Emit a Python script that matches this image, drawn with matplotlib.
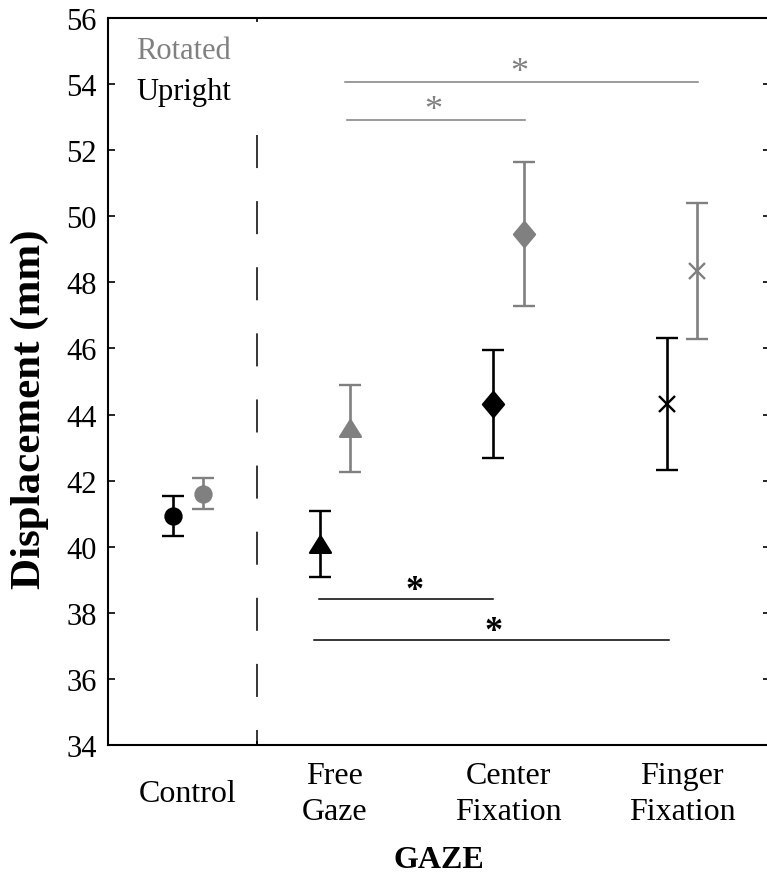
import matplotlib
matplotlib.use("Agg")
import matplotlib.pyplot as plt
from matplotlib.path import Path

plt.rcParams['font.family'] = ['Liberation Serif', 'DejaVu Serif']
plt.rcParams['lines.scale_dashes'] = False

# group positions on the x axis
groups = ["Control", "Free\nGaze", "Center\nFixation", "Finger\nFixation"]
group_x = [1.153, 2.0, 3.0, 4.0]
shift = 0.088
divider_x = 1.549

upright_mean = [40.93, 40.08, 44.31, 44.32]
upright_err = [0.61, 1.01, 1.64, 1.99]
rotated_mean = [41.61, 43.58, 49.47, 48.35]
rotated_err = [0.47, 1.32, 2.18, 2.05]

# significance bars: (x start, x end, y, star x)
sig_upright = [(1.91, 2.91, 38.42, 2.46), (1.879, 3.925, 37.18, 2.916)]
sig_rotated = [(2.07, 3.095, 52.91, 2.565), (2.058, 4.092, 54.06, 3.06)]

gray = "#808080"

diamond = Path([(0, 1), (0.84, 0), (0, -1), (-0.84, 0), (0, 1)],
               [Path.MOVETO, Path.LINETO, Path.LINETO, Path.LINETO, Path.CLOSEPOLY])
triangle = Path([(0, 0.8), (1, -0.8), (-1, -0.8), (0, 0.8)],
                [Path.MOVETO, Path.LINETO, Path.LINETO, Path.CLOSEPOLY])
markers = ['o', triangle, diamond, 'x']
msizes = [11.5, 15, 18, 11.5]

fig = plt.figure(figsize=(7.67, 8.79), dpi=100)
ax = fig.add_axes([108 / 767, 133 / 879, 662 / 767, 727 / 879])

for i in range(4):
    for mean, err, col, dx in [(upright_mean, upright_err, 'black', -shift),
                               (rotated_mean, rotated_err, gray, shift)]:
        ax.errorbar(group_x[i] + dx, mean[i], yerr=err[i], color=col,
                    marker=markers[i], ms=msizes[i], mec=col, mfc=col, mew=1.7,
                    elinewidth=1.9, capsize=8, capthick=1.9, linestyle='none')

ax.plot([divider_x, divider_x], [52.46, 34], color='black', lw=1.1,
        dashes=(23.8, 23.8))

for x0, x1, y, sx in sig_upright:
    ax.plot([x0, x1], [y, y], color='black', lw=1.1)
    ax.text(sx, y - 0.25, "*", ha='center', va='bottom', fontsize=26,
            fontweight='bold', color='black')
for x0, x1, y, sx in sig_rotated:
    ax.plot([x0, x1], [y, y], color=gray, lw=1.1)
    ax.text(sx, y - 0.22, "*", ha='center', va='bottom', fontsize=26, color=gray)

ax.text(0.853, 54.79, "Rotated", color=gray, fontsize=22, va='baseline')
ax.text(0.853, 53.56, "Upright", color='black', fontsize=22, va='baseline')

# category names under the axis, centred vertically on one line
for gx, name in zip(group_x, groups):
    ax.text(gx, -0.0665, name, transform=ax.get_xaxis_transform(),
            ha='center', va='center', fontsize=23, linespacing=1.3)

ax.set_xlim(0.692, 4.507)
ax.set_ylim(34, 56)
ax.set_yticks(range(34, 57, 2))
ax.set_xticks([divider_x])
ax.set_xticklabels([])
ax.tick_params(axis='x', direction='in', length=3, top=True, width=1.2)
ax.tick_params(axis='y', direction='in', length=5, width=1.2, right=True,
               labelsize=22, pad=8)
for s in ax.spines.values():
    s.set_linewidth(1.5)

fig.text(30 / 767, 1 - 409 / 879, "Displacement (mm)", rotation=90,
         ha='center', va='center', fontsize=31, fontweight='bold')
fig.text(439 / 767, 1 - 861 / 879, "GAZE", ha='center', va='center',
         fontsize=23, fontweight='bold')

fig.savefig("out.png", dpi=100)
